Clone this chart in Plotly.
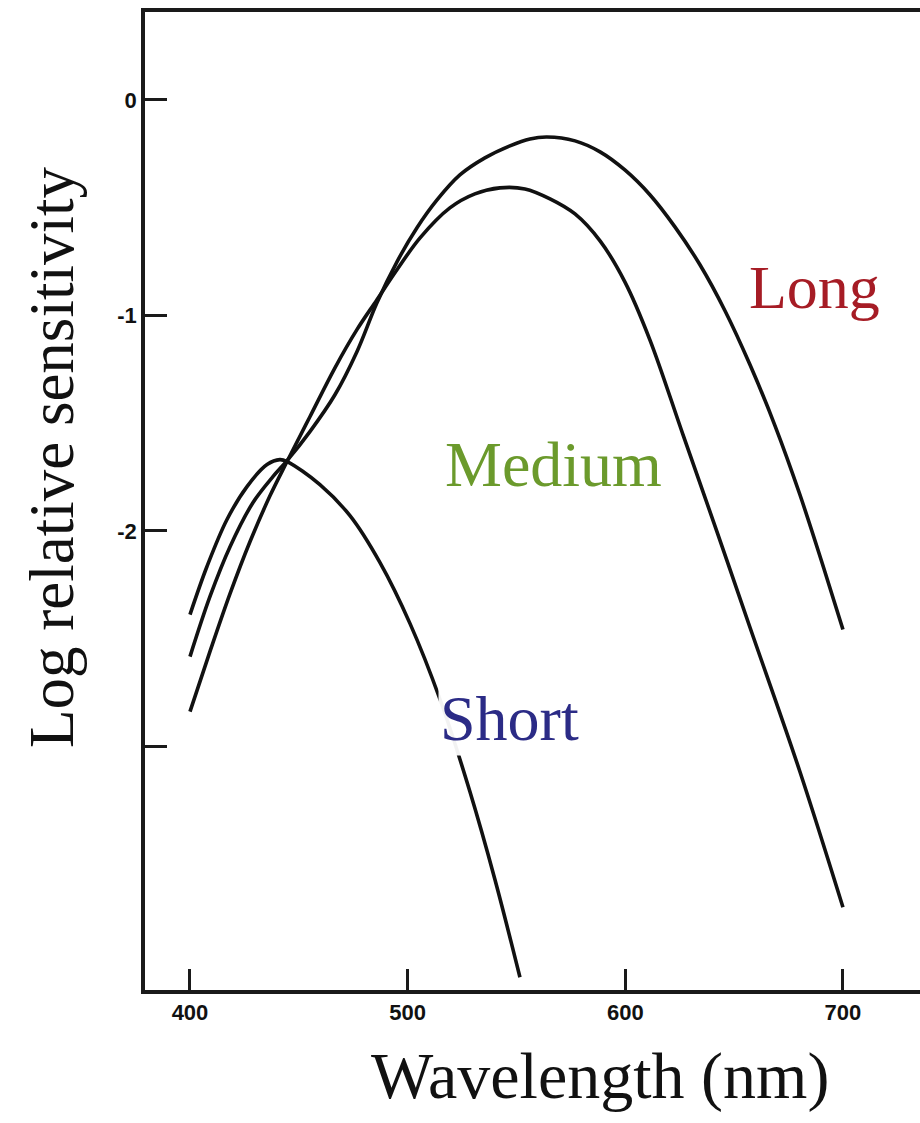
import plotly.graph_objects as go

# ---- data ----
lam_s = [400, 407.8, 417.0, 426.2, 435.4, 441.3, 444.6, 459.7, 473.5, 487.3, 501.1, 514.9, 528.6, 540.1, 551.6]
v_s = [-2.388, -2.165, -1.947, -1.794, -1.692, -1.669, -1.678, -1.785, -1.929, -2.147, -2.430, -2.782,
       -3.209, -3.617, -4.071]

lam_m = [400, 409.2, 418.4, 427.6, 436.8, 444.6, 455.1, 466.6, 476.7, 485.9, 495.1, 505.7, 519.4, 530.9,
         542.4, 553.9, 565.4, 576.9, 588.4, 599.8, 611.3, 626.5, 642.1, 657.3, 680.2, 700]
v_m = [-2.838, -2.559, -2.291, -2.049, -1.836, -1.678, -1.470, -1.243, -1.066, -0.927, -0.788, -0.640,
       -0.501, -0.436, -0.408, -0.413, -0.459, -0.529, -0.654, -0.844, -1.113, -1.553, -2.003, -2.448,
       -3.116, -3.746]

lam_l = [400, 409.2, 418.4, 428.9, 438.1, 444.6, 455.1, 466.6, 476.7, 485.9, 495.1, 504.3, 513.5, 524.0,
         535.5, 547.0, 556.2, 564.0, 576.9, 588.4, 599.8, 611.3, 622.8, 634.3, 645.8, 657.3, 668.8, 680.2,
         691.7, 700]
v_l = [-2.583, -2.304, -2.073, -1.869, -1.748, -1.674, -1.539, -1.368, -1.168, -0.941, -0.751, -0.593,
       -0.464, -0.348, -0.269, -0.213, -0.181, -0.172, -0.190, -0.241, -0.325, -0.440, -0.589, -0.765,
       -0.978, -1.229, -1.512, -1.831, -2.189, -2.457]

x_ticks = [400, 500, 600, 700]
x_tick_labels = ["400", "500", "600", "700"]
y_ticks = [0, -1, -2, -3]
y_tick_labels = ["0", "-1", "-2", ""]

series_names = ["Short", "Medium", "Long"]
label_colors = ["#2b2b86", "#6b9a2c", "#a61c25"]
label_pos = [(547.0, -2.87), (567.2, -1.69), (687.1, -0.87)]
label_sizes = [64, 64, 62]

fig = go.Figure()
for name, xs, ys in [("Short", lam_s, v_s), ("Medium", lam_m, v_m), ("Long", lam_l, v_l)]:
    fig.add_trace(go.Scatter(x=xs, y=ys, mode="lines", name=name,
                             line=dict(color="#111111", width=3.6, shape="spline", smoothing=1.0),
                             showlegend=False, hoverinfo="skip"))

for name, col, (lx, ly), fs in zip(series_names, label_colors, label_pos, label_sizes):
    fig.add_annotation(x=lx, y=ly, xref="x", yref="y", text=name, showarrow=False,
                       font=dict(family="Liberation Serif", size=fs, color=col),
                       bgcolor="rgba(255,255,255,0.95)" if name != "Long" else "rgba(0,0,0,0)",
                       xanchor="center", yanchor="middle")

# axis titles
fig.add_annotation(x=0.587, y=-0.088, xref="paper", yref="paper", text="Wavelength (nm)",
                   showarrow=False, font=dict(family="Liberation Serif", size=66, color="#111111"),
                   xanchor="center", yanchor="middle")
fig.add_annotation(x=-0.12, y=0.544, xref="paper", yref="paper", text="Log relative sensitivity",
                   showarrow=False, textangle=-90,
                   font=dict(family="Liberation Serif", size=63, color="#111111"),
                   xanchor="center", yanchor="middle")

fig.update_layout(
    width=920, height=1123,
    margin=dict(l=145, r=0, t=12, b=133),
    paper_bgcolor="white", plot_bgcolor="white",
)
fig.update_xaxes(range=[379.33, 735.4], showgrid=False, zeroline=False,
                 showline=True, linecolor="#1a1a1a", linewidth=3.5, mirror=True,
                 ticks="inside", ticklen=21, tickwidth=3, tickcolor="#1a1a1a",
                 tickvals=x_ticks, ticktext=x_tick_labels,
                 tickfont=dict(family="Liberation Sans", size=22, color="#111111", weight="bold"))
fig.update_yaxes(range=[-4.130, 0.408], showgrid=False, zeroline=False,
                 showline=True, linecolor="#1a1a1a", linewidth=3.5, mirror=False,
                 ticks="inside", ticklen=22, tickwidth=3, tickcolor="#1a1a1a",
                 tickvals=y_ticks, ticktext=y_tick_labels,
                 tickfont=dict(family="Liberation Sans", size=22, color="#111111", weight="bold"))

fig.write_html("out.html")
